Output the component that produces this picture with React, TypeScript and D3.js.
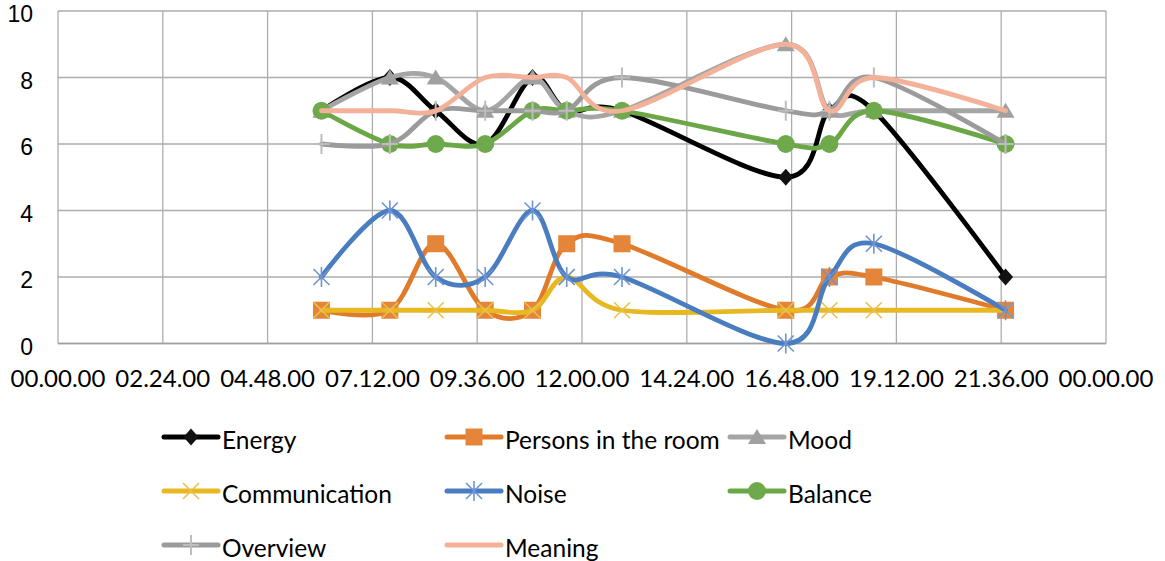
import React from "react";
import * as d3 from "d3";

const times = ["06:02", "07:36", "08:39", "09:47", "10:52", "11:39", "12:55", "16:40", "17:40", "18:41", "21:42"];

const energy = [7, 8, 7, 6, 8, 7, 7, 5, 7, 7, 2];
const persons = [1, 1, 3, 1, 1, 3, 3, 1, 2, 2, 1];
const mood = [7, 8, 8, 7, 8, 7, 7, 9, 7, 7, 7];
const communication = [1, 1, 1, 1, 1, 2, 1, 1, 1, 1, 1];
const noise = [2, 4, 2, 2, 4, 2, 2, 0, 2, 3, 1];
const balance = [7, 6, 6, 6, 7, 7, 7, 6, 6, 7, 6];
const overview = [6, 6, 7, 7, 7, 7, 8, 7, 7, 8, 6];
const meaning = [7, 7, 7, 8, 8, 8, 7, 9, 7, 8, 7];

const xTickHours = [0, 2.4, 4.8, 7.2, 9.6, 12, 14.4, 16.8, 19.2, 21.6, 24];
const yTicks = [0, 2, 4, 6, 8, 10];

type Marker = "diamond" | "square" | "triangle" | "x" | "asterisk" | "circle" | "plus" | "none";

const seriesDefs: { name: string; values: number[]; color: string; markerColor: string; marker: Marker }[] = [
  { name: "Energy", values: energy, color: "#000000", markerColor: "#111111", marker: "diamond" },
  { name: "Persons in the room", values: persons, color: "#E07B2B", markerColor: "#E4853A", marker: "square" },
  { name: "Mood", values: mood, color: "#A5A5A5", markerColor: "#A0A0A0", marker: "triangle" },
  { name: "Communication", values: communication, color: "#E8B823", markerColor: "#EBC04A", marker: "x" },
  { name: "Noise", values: noise, color: "#4A7CC0", markerColor: "#6E93D3", marker: "asterisk" },
  { name: "Balance", values: balance, color: "#6BA746", markerColor: "#6EA94B", marker: "circle" },
  { name: "Overview", values: overview, color: "#9B9B9B", markerColor: "#BDBDBD", marker: "plus" },
  { name: "Meaning", values: meaning, color: "#F3B199", markerColor: "#F3B199", marker: "none" },
];

const legendRows = [
  ["Energy", "Persons in the room", "Mood"],
  ["Communication", "Noise", "Balance"],
  ["Overview", "Meaning"],
];

const toHours = (t: string) => {
  const [h, m] = t.split(":").map(Number);
  return h + m / 60;
};

const fmtHour = (h: number) => {
  const totalMin = Math.round(h * 60) % (24 * 60);
  const hh = Math.floor(totalMin / 60);
  const mm = totalMin % 60;
  return `${String(hh).padStart(2, "0")}.${String(mm).padStart(2, "0")}.00`;
};

const FONT = "Lato, 'Liberation Sans', sans-serif";
const YFONT = "'Liberation Sans', Arial, sans-serif";

function MarkerShape({ type, x, y, color }: { type: Marker; x: number; y: number; color: string }) {
  switch (type) {
    case "diamond":
      return <path d={`M${x},${y - 8.5}L${x + 7.5},${y}L${x},${y + 8.5}L${x - 7.5},${y}Z`} fill={color} />;
    case "square":
      return <rect x={x - 8.5} y={y - 8.5} width={17} height={17} fill={color} />;
    case "triangle":
      return <path d={`M${x},${y - 8}L${x + 9},${y + 7}L${x - 9},${y + 7}Z`} fill={color} />;
    case "circle":
      return <circle cx={x} cy={y} r={9} fill={color} />;
    case "x":
      return (
        <path d={`M${x - 8},${y - 8}L${x + 8},${y + 8}M${x - 8},${y + 8}L${x + 8},${y - 8}`} stroke={color} strokeWidth={1.6} fill="none" />
      );
    case "asterisk":
      return (
        <path
          d={`M${x - 8},${y - 8}L${x + 8},${y + 8}M${x - 8},${y + 8}L${x + 8},${y - 8}M${x},${y - 10}L${x},${y + 10}`}
          stroke={color}
          strokeWidth={1.6}
          fill="none"
        />
      );
    case "plus":
      return <path d={`M${x},${y - 10}L${x},${y + 10}M${x - 8},${y}L${x + 8},${y}`} stroke={color} strokeWidth={2} fill="none" />;
    default:
      return null;
  }
}

export default function App() {
  const width = 1165;
  const height = 561;
  const left = 58;
  const right = 1106;
  const top = 11;
  const bottom = 343.5;

  const x = d3.scaleLinear().domain([0, 24]).range([left, right]);
  const y = d3.scaleLinear().domain([0, 10]).range([bottom, top]);
  const hours = times.map(toHours);

  const line = d3
    .line<number>()
    .x((_, i) => x(hours[i]))
    .y((v) => y(v))
    .curve(d3.curveCardinal.tension(0));

  const legendCols = [162, 445, 728];
  const legendRowY = [437, 491, 545];

  return (
    <svg width={width} height={height} style={{ position: "absolute", left: 0, top: 0, background: "#fff" }}>
      <rect width={width} height={height} fill="#fff" />
      {/* gridlines */}
      {yTicks.map((t) => (
        <line key={"h" + t} x1={left} x2={right} y1={y(t)} y2={y(t)} stroke="#ADADAD" strokeWidth={1.3} />
      ))}
      {xTickHours.map((t) => (
        <line key={"v" + t} x1={x(t)} x2={x(t)} y1={top} y2={bottom} stroke="#ADADAD" strokeWidth={1.3} />
      ))}
      <line x1={left} x2={right} y1={bottom} y2={bottom} stroke="#A0A0A0" strokeWidth={1.5} />
      {/* y labels */}
      {yTicks.map((t) => (
        <text key={"yl" + t} x={33} y={y(t) + 11} textAnchor="end" fontFamily={YFONT} fontSize={23} fill="#000">
          {t}
        </text>
      ))}
      {/* x labels */}
      {xTickHours.map((t) => (
        <text key={"xl" + t} x={x(t)} y={387} textAnchor="middle" fontFamily={FONT} fontSize={24} fill="#000">
          {fmtHour(t)}
        </text>
      ))}
      {/* series */}
      {seriesDefs.map((s) => (
        <g key={s.name}>
          <path d={line(s.values) || ""} fill="none" stroke={s.color} strokeWidth={4.8} strokeLinecap="round" strokeLinejoin="round" />
          {s.values.map((v, i) => (
            <MarkerShape key={i} type={s.marker} x={x(hours[i])} y={y(v)} color={s.markerColor} />
          ))}
        </g>
      ))}
      {/* legend */}
      {legendRows.map((row, ri) =>
        row.map((name, ci) => {
          const s = seriesDefs.find((d) => d.name === name)!;
          const lx = legendCols[ci];
          const ly = legendRowY[ri];
          return (
            <g key={name}>
              <line x1={lx + 2} x2={lx + 56} y1={ly} y2={ly} stroke={s.color} strokeWidth={5} strokeLinecap="round" />
              <MarkerShape type={s.marker} x={lx + 29} y={ly} color={s.markerColor} />
              <text x={lx + 60} y={ly + 12} fontFamily={FONT} fontSize={24.5} fill="#000">
                {name}
              </text>
            </g>
          );
        })
      )}
    </svg>
  );
}
